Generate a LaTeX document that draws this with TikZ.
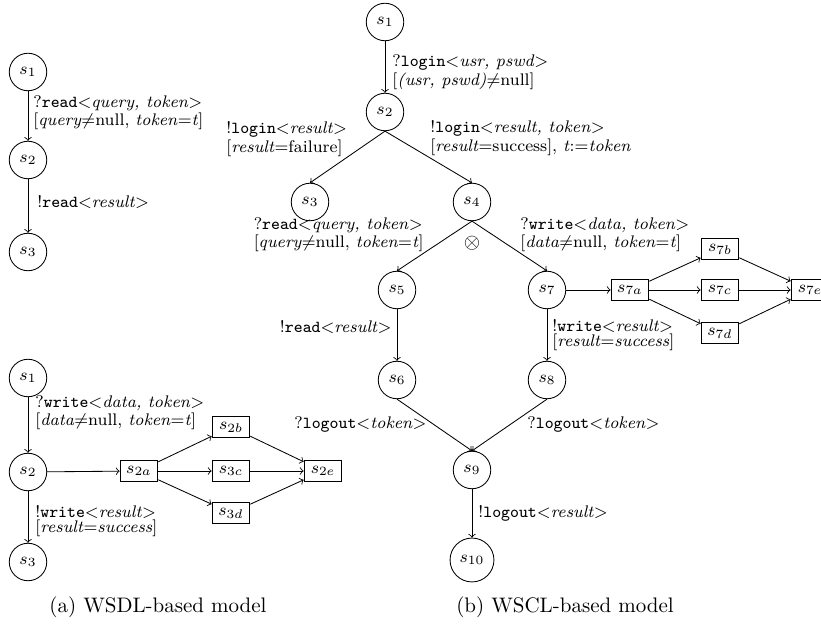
\documentclass[tikz,border=0pt]{standalone}
\usetikzlibrary{positioning}

\tikzset{
  state/.style={circle, draw, inner sep=3.1pt, font=\footnotesize},
  substate/.style={rectangle, draw, minimum width=18pt, minimum height=10pt, inner sep=1pt, font=\footnotesize},
  lbl/.style={font=\footnotesize\linespread{0.78}\selectfont, align=left, inner sep=0pt},
  tr/.style={->},
  captxt/.style={font=\normalsize, inner sep=0pt}
}

\begin{document}
\begin{tikzpicture}[x=0.47619pt, y=-0.47619pt]
\fill[white] (0,0) rectangle (821,625);
\useasboundingbox (0,0) rectangle (821,625);

% ---------- (a) upper chain: read ----------
\node[state] (a1) at (28,72)  {$s_1$};
\node[state] (a2) at (28,160) {$s_2$};
\node[state] (a3) at (28,252) {$s_3$};
\draw[tr] (a1) -- (a2);
\draw[tr] (a2) -- (a3);
\node[lbl, anchor=west] (la1) at (33,113)
  {?\texttt{read}$<$\textit{query, token}$>$\\{}[\textit{query}$\neq$null, \textit{token}$=$\textit{t}]};
\node[lbl, anchor=west] (la2) at (37,202) {!\texttt{read}$<$\textit{result}$>$};

% ---------- (a) lower chain: write ----------
\node[state] (b1) at (28,378) {$s_1$};
\node[state] (b2) at (28,472) {$s_2$};
\node[state] (b3) at (28,562) {$s_3$};
\node[substate] (b2a) at (139,471) {$s_{2a}$};
\node[substate] (b2b) at (231,427) {$s_{2b}$};
\node[substate] (b3c) at (231,471) {$s_{3c}$};
\node[substate] (b3d) at (231,513) {$s_{3d}$};
\node[substate] (b2e) at (323,471) {$s_{2e}$};
\draw[tr] (b1) -- (b2);
\draw[tr] (b2) -- (b3);
\draw[tr] (b2) -- (b2a);
\draw[tr] (b2a) -- (b2b);
\draw[tr] (b2a) -- (b3c);
\draw[tr] (b2a) -- (b3d);
\draw[tr] (b2b) -- (b2e);
\draw[tr] (b3c) -- (b2e);
\draw[tr] (b3d) -- (b2e);
\node[lbl, anchor=west] (lb1) at (35,413)
  {?\texttt{write}$<$\textit{data, token}$>$\\{}[\textit{data}$\neq$null, \textit{token}$=$\textit{t}]};
\node[lbl, anchor=west] (lb2) at (35,521)
  {!\texttt{write}$<$\textit{result}$>$\\{}[\textit{result}$=$\textit{success}]};

\node[captxt] (capa) at (158,607) {(a) WSDL-based model};

% ---------- (b) conversation ----------
\node[state] (c1)  at (385,22)  {$s_1$};
\node[state] (c2)  at (385,112) {$s_2$};
\node[state] (c3)  at (310,202) {$s_3$};
\node[state] (c4)  at (472,202) {$s_4$};
\node[state] (c5)  at (397,290) {$s_5$};
\node[state] (c7)  at (547,290) {$s_7$};
\node[state] (c6)  at (397,380) {$s_6$};
\node[state] (c8)  at (547,380) {$s_8$};
\node[state] (c9)  at (472,470) {$s_9$};
\node[state] (c10) at (472,560) {$s_{10}$};
\node[substate] (c7a) at (630,290) {$s_{7a}$};
\node[substate] (c7b) at (720,249) {$s_{7b}$};
\node[substate] (c7c) at (720,290) {$s_{7c}$};
\node[substate] (c7d) at (720,333) {$s_{7d}$};
\node[substate] (c7e) at (810,290) {$s_{7e}$};

\draw[tr] (c1) -- (c2);
\draw[tr] (c2.south) -- (c3.north);
\draw[tr] (c2.south) -- (c4.north);
\draw[tr] (c4.south) -- (c5.north);
\draw[tr] (c4.south) -- (c7.north);
\draw[tr] (c5) -- (c6);
\draw[tr] (c7) -- (c8);
\draw[tr] (c6.south) -- (c9.north);
\draw[tr] (c8.south) -- (c9.north);
\draw[tr] (c9) -- (c10);
\draw[tr] (c7) -- (c7a);
\draw[tr] (c7a) -- (c7b);
\draw[tr] (c7a) -- (c7c);
\draw[tr] (c7a) -- (c7d);
\draw[tr] (c7b) -- (c7e);
\draw[tr] (c7c) -- (c7e);
\draw[tr] (c7d) -- (c7e);

\node[font=\normalsize, inner sep=0pt] (xor) at (472,243) {$\otimes$};

\node[lbl, anchor=west] (lc1) at (392,72)
  {?\texttt{login}$<$\textit{usr, pswd}$>$\\{}[\textit{(usr, pswd)}$\neq$null]};
\node[lbl, anchor=west] (lc2) at (226,139)
  {!\texttt{login}$<$\textit{result}$>$\\{}[\textit{result}$=$failure]};
\node[lbl, anchor=west] (lc3) at (430,138)
  {!\texttt{login}$<$\textit{result, token}$>$\\{}[\textit{result}$=$success], \textit{t}$:=$\textit{token}};
\node[lbl, anchor=east] (lc4) at (424,235)
  {?\texttt{read}$<$\textit{query, token}$>$\\{}[\textit{query}$\neq$null, \textit{token}$=$\textit{t}]};
\node[lbl, anchor=west] (lc5) at (520,235)
  {?\texttt{write}$<$\textit{data, token}$>$\\{}[\textit{data}$\neq$null, \textit{token}$=$\textit{t}]};
\node[lbl, anchor=east] (lc6) at (392,327) {!\texttt{read}$<$\textit{result}$>$};
\node[lbl, anchor=west] (lc7) at (552,335)
  {!\texttt{write}$<$\textit{result}$>$\\{}[\textit{result}$=$\textit{success}]};
\node[lbl, anchor=east] (lc8) at (427,425) {?\texttt{logout}$<$\textit{token}$>$};
\node[lbl, anchor=west] (lc9) at (527,425) {?\texttt{logout}$<$\textit{token}$>$};
\node[lbl, anchor=west] (lc10) at (478,513) {!\texttt{logout}$<$\textit{result}$>$};

\node[captxt] (capb) at (565,607) {(b) WSCL-based model};
\end{tikzpicture}
\end{document}
